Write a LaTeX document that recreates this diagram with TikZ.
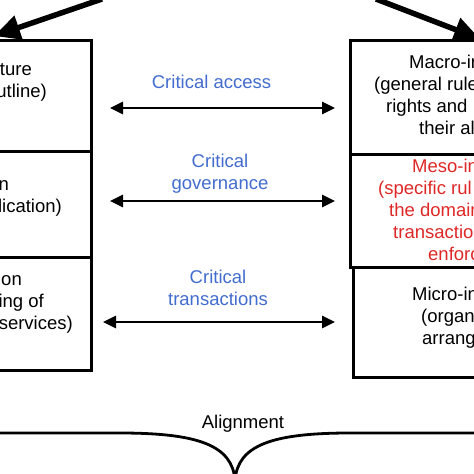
\documentclass[tikz,border=0pt]{standalone}
\usepackage{fontspec}
\setmainfont{Liberation Sans}
\usetikzlibrary{arrows.meta, positioning}
\definecolor{linkblue}{RGB}{66,108,206}
\definecolor{mesored}{RGB}{222,40,38}

\begin{document}
\begin{tikzpicture}[x=1pt, y=-1pt,
    box/.style={draw, line width=3pt, inner sep=0pt},
    link/.style={{Triangle[length=13pt,width=12pt]}-{Triangle[length=13pt,width=12pt]}, line width=2.8pt},
    bigarrow/.style={-{Triangle[length=26pt,width=24pt]}, line width=5.5pt},
    txt/.style={font=\fontsize{18.5}{22}\selectfont, inner sep=0pt},
    lefttxt/.style={txt, anchor=base east},
    righttxt/.style={txt, anchor=base west}]
    % Page
    \useasboundingbox (0,0) rectangle (474,474);
    \clip (0,0) rectangle (474,474);

    % Left column of boxes
    \node[box, minimum width=101pt, minimum height=111pt] (lA) at (40.5, 95.5) {};
    \node[box, minimum width=101pt, minimum height=106pt] (lB) at (40.5, 204) {};
    \node[box, minimum width=101pt, minimum height=113pt] (lC) at (40.5, 313.5) {};

    % Right column of boxes
    \node[box, minimum width=134pt, minimum height=114pt] (rA) at (417, 97) {};
    \node[box, minimum width=134pt, minimum height=113pt] (rB) at (417, 210.5) {};
    \node[box, minimum width=131pt, minimum height=110pt] (rC) at (418.5, 322) {};

    % Texts of the left boxes
    \node[lefttxt] (lA1) at (32, 75) {ture};
    \node[lefttxt] (lA2) at (47, 97) {utline)};
    \node[lefttxt] (lB1) at (9, 190) {n};
    \node[lefttxt] (lB2) at (62, 212) {lication)};
    \node[lefttxt] (lC1) at (22, 285) {on};
    \node[lefttxt] (lC2) at (44, 307) {ing of};
    \node[lefttxt] (lC3) at (73, 329) {services)};

    % Texts of the right boxes
    \node[righttxt] (rA1) at (409, 68) {Macro-in};
    \node[righttxt] (rA2) at (374, 90) {(general rules};
    \node[righttxt] (rA3) at (386, 112) {rights and};
    \node[righttxt] (rA4) at (419, 134) {their al};
    \node[righttxt, text=mesored] (rB1) at (412, 172) {Meso-in};
    \node[righttxt, text=mesored] (rB2) at (378, 194) {(specific rul};
    \node[righttxt, text=mesored] (rB3) at (389, 216) {the domain};
    \node[righttxt, text=mesored] (rB4) at (393, 238) {transaction};
    \node[righttxt, text=mesored] (rB5) at (428, 260) {enforc};
    \node[righttxt] (rC1) at (412, 300) {Micro-in};
    \node[righttxt] (rC2) at (421, 322) {(organ};
    \node[righttxt] (rC3) at (422, 344) {arrang};

    % Links between the columns
    \coordinate (aL) at (110, 108);
    \coordinate (aR) at (335, 108);
    \coordinate (gL) at (110, 201);
    \coordinate (gR) at (335, 201);
    \coordinate (tL) at (103, 322);
    \coordinate (tR) at (335, 322);
    \draw[link] (aL) -- (aR);
    \draw[link] (gL) -- (gR);
    \draw[link] (tL) -- (tR);

    \node[txt, text=linkblue, anchor=base] (access) at (211.5, 88) {Critical access};
    \node[txt, text=linkblue, align=center, anchor=base] (governance) at (220, 189) {Critical\\governance};
    \node[txt, text=linkblue, align=center, anchor=base] (transactions) at (218, 305) {Critical\\transactions};

    % Arrows coming in from above
    \coordinate (inL) at (102, -1);
    \coordinate (tipL) at (-6, 36);
    \coordinate (inR) at (376, -1);
    \coordinate (tipR) at (480, 39);
    \draw[bigarrow] (inL) -- (tipL);
    \draw[bigarrow] (inR) -- (tipR);

    % Brace
    \node[txt, anchor=base] (align) at (243, 428) {Alignment};
    \draw[line width=2.8pt] (0, 433) -- (120, 433) .. controls (200, 433) and (232, 446) .. (235, 480);
    \draw[line width=2.8pt] (474, 433) -- (350, 433) .. controls (270, 433) and (238, 446) .. (235, 480);

\end{tikzpicture}
\end{document}
